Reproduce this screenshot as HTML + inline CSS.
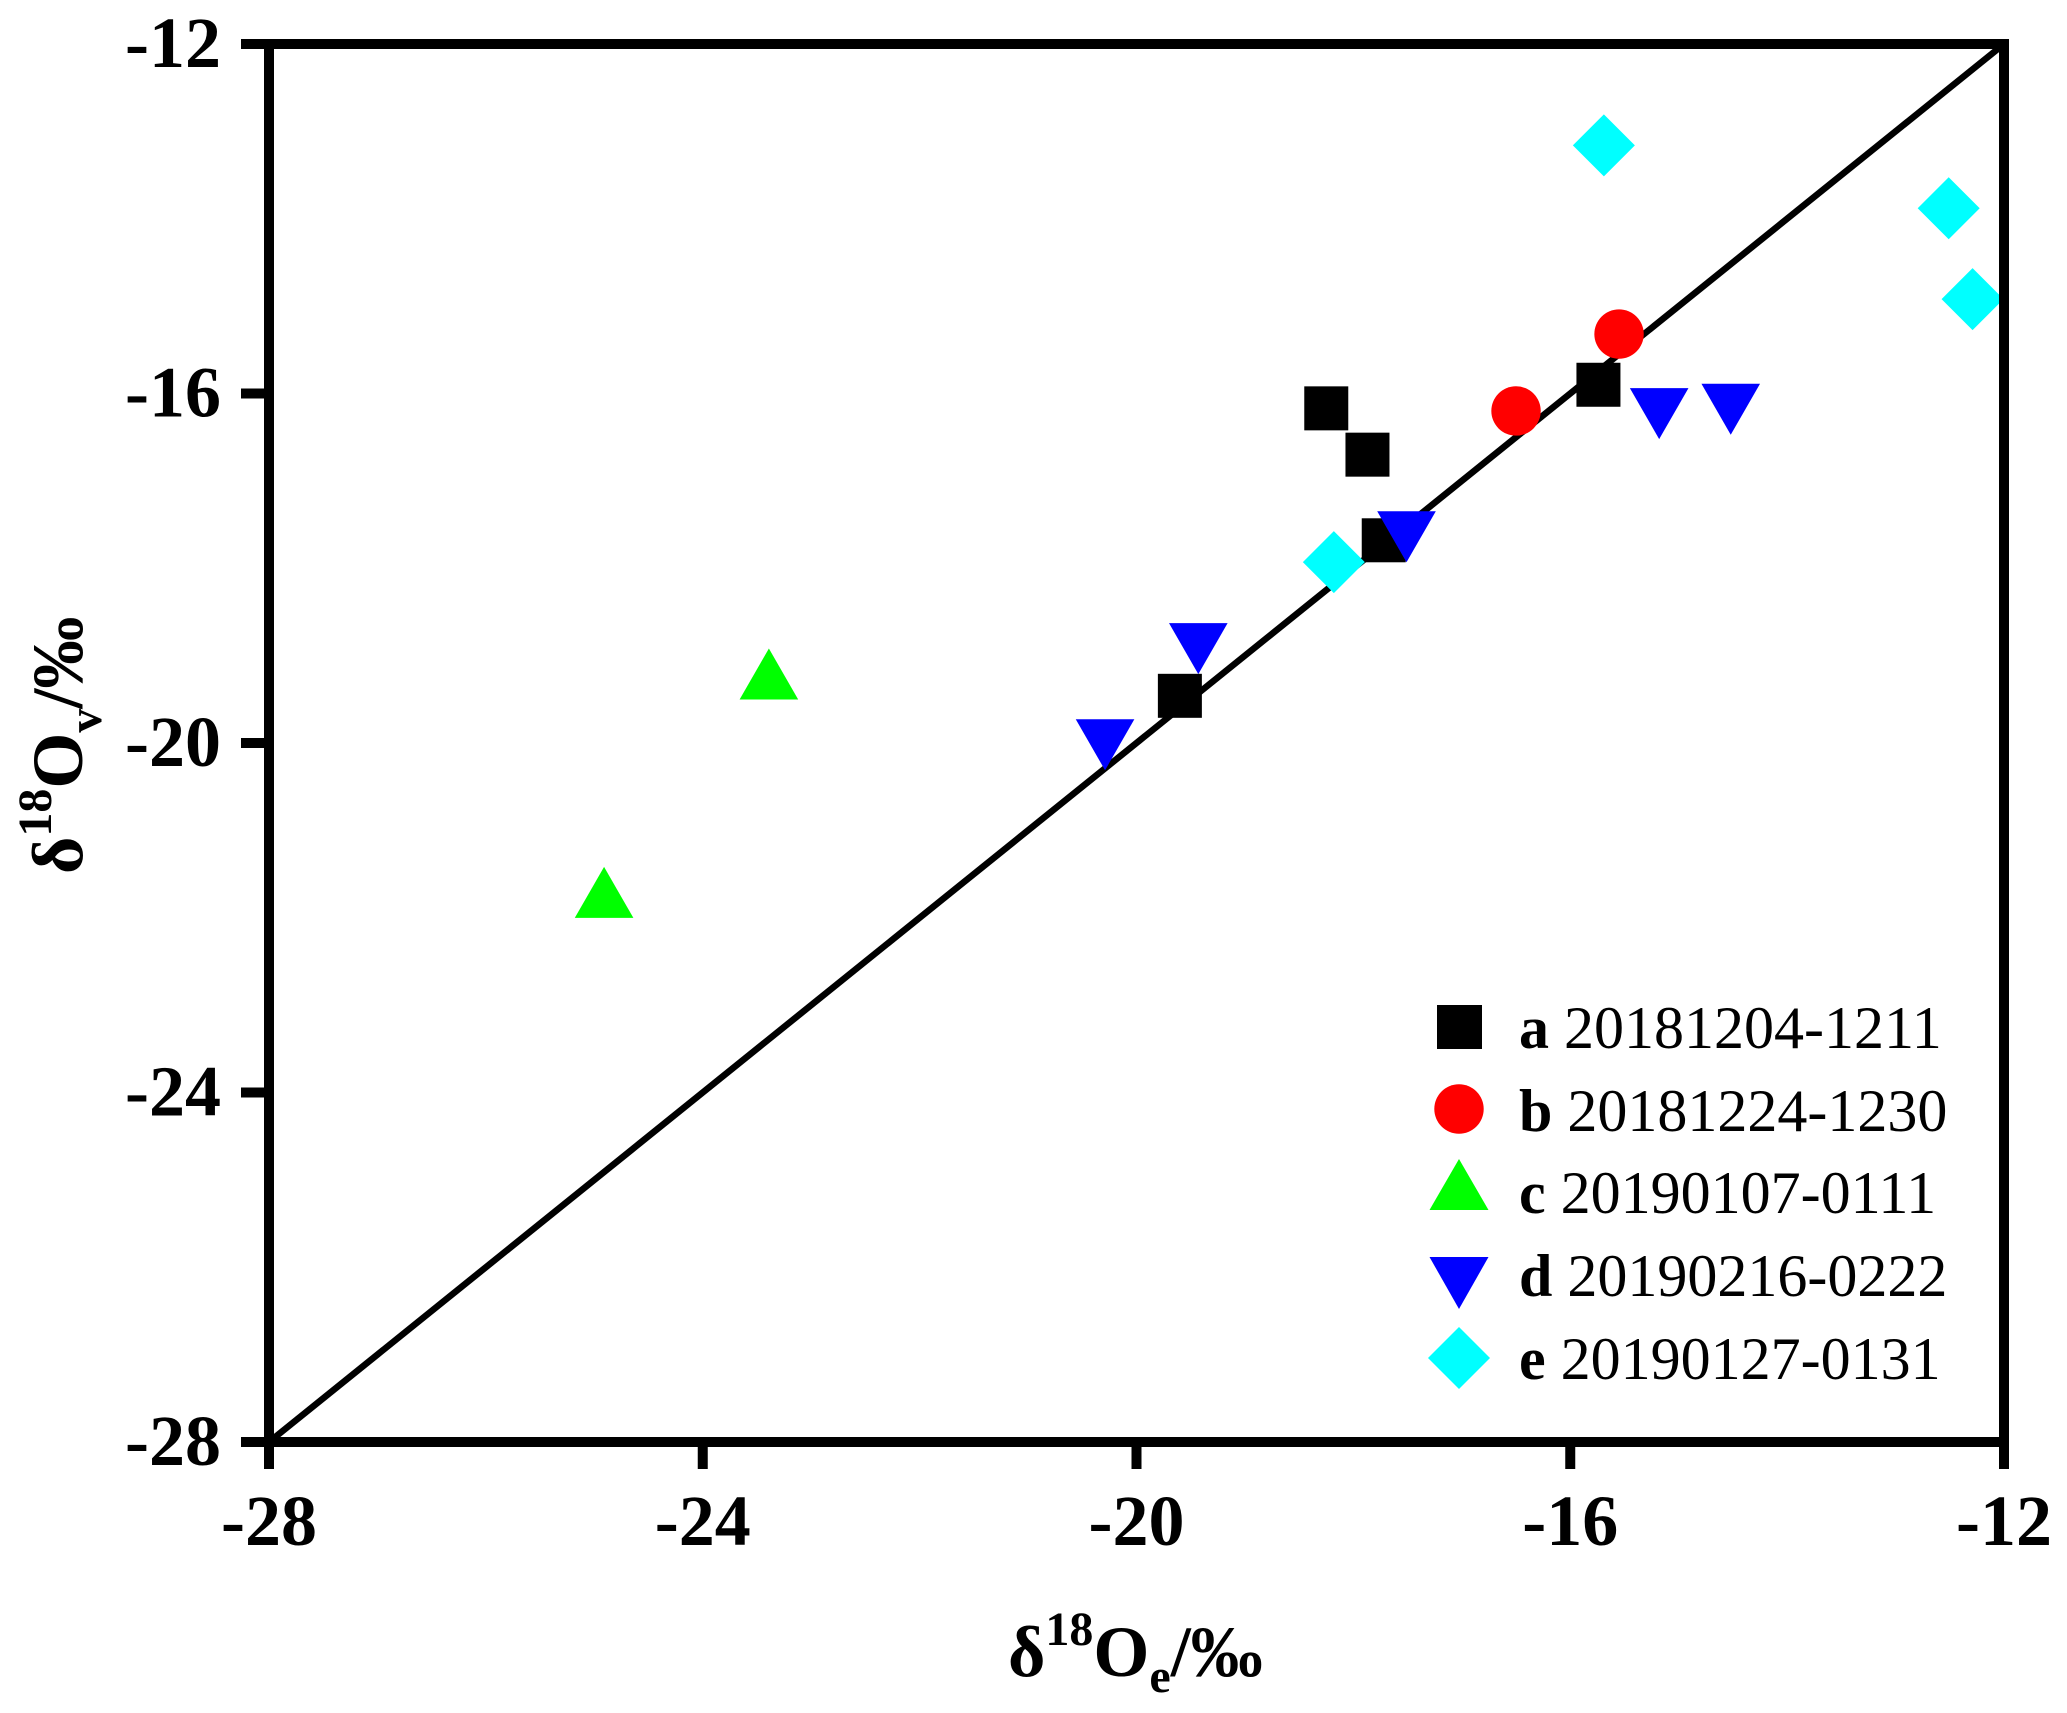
<!DOCTYPE html>
<html>
<head>
<meta charset="utf-8">
<title>δ18O scatter chart</title>
<style>
html,body{margin:0;padding:0;background:#fff;}
svg{display:block;}
text{font-family:"Liberation Serif",serif;fill:#000;}
.b{font-weight:bold;}
</style>
</head>
<body>
<svg id="chart" xmlns="http://www.w3.org/2000/svg" width="2067" height="1713" viewBox="0 0 2067 1713">
  <rect x="0" y="0" width="2067" height="1713" fill="#fff"/>
  <g id="marks"></g>
  <g id="axes"></g>
  <text class="b" x="1008" y="1676" font-size="72">δ<tspan font-size="48" dy="-31">18</tspan><tspan dy="31">O</tspan><tspan font-size="48" dy="16">e</tspan><tspan dy="-16">/‰</tspan></text>
  <text class="b" transform="translate(82,874) rotate(-90)" font-size="72">δ<tspan font-size="48" dy="-31">18</tspan><tspan dy="31">O</tspan><tspan font-size="48" dy="19">v</tspan><tspan dy="-19">/‰</tspan></text>
  <g id="legend">
    <rect x="1437" y="1005" width="45" height="44" fill="#000"/>
    <text x="1519" y="1048" font-size="60"><tspan class="b">a</tspan> 20181204-1211</text>
    <circle cx="1459" cy="1109" r="24.7" fill="#f00"/>
    <text x="1519" y="1131" font-size="60"><tspan class="b">b</tspan> 20181224-1230</text>
    <polygon points="1459,1159 1488.5,1210 1429.5,1210" fill="#0f0"/>
    <text x="1519" y="1213" font-size="60"><tspan class="b">c</tspan> 20190107-0111</text>
    <polygon points="1429.5,1257 1488.5,1257 1459,1309" fill="#00f"/>
    <text x="1519" y="1296" font-size="60"><tspan class="b">d</tspan> 20190216-0222</text>
    <polygon points="1459,1327 1490,1358 1459,1389 1428,1358" fill="#0ff"/>
    <text x="1519" y="1379" font-size="60"><tspan class="b">e</tspan> 20190127-0131</text>
  </g>
</svg>
<script>
const xTickValues = [-28, -24, -20, -16, -12];
const yTickValues = [-28, -24, -20, -16, -12];
const axisMin = -28;
const axisMax = -12;
const seriesAX = [-18.25, -17.87, -17.72, -15.74, -19.60];
const seriesAY = [-16.17, -16.70, -17.68, -15.90, -19.46];
const seriesBX = [-16.50, -15.55];
const seriesBY = [-16.20, -15.32];
const seriesCX = [-23.39, -24.91];
const seriesCY = [-19.21, -21.71];
const seriesDX = [-17.51, -15.18, -14.52, -19.43, -20.29];
const seriesDY = [-17.64, -16.23, -16.18, -18.92, -20.02];
const seriesEX = [-18.18, -15.69, -12.51, -12.29];
const seriesEY = [-17.93, -13.16, -13.88, -14.92];
const lineX = [-28, -12];
const lineY = [-28, -12];

const NS = 'http://www.w3.org/2000/svg';
const plotLeft = 269, plotRight = 2004, plotTop = 44, plotBottom = 1442;
function sx(v){ return plotLeft + (v - axisMin) / (axisMax - axisMin) * (plotRight - plotLeft); }
function sy(v){ return plotBottom - (v - axisMin) / (axisMax - axisMin) * (plotBottom - plotTop); }
function make(tag, attrs){
  const el = document.createElementNS(NS, tag);
  for (const k in attrs) el.setAttribute(k, attrs[k]);
  return el;
}
const marks = document.getElementById('marks');
const axes = document.getElementById('axes');

const refLine = make('line', {x1: sx(lineX[0]), y1: sy(lineY[0]), x2: sx(lineX[1]), y2: sy(lineY[1]), stroke: '#000', 'stroke-width': 6.5});


marks.appendChild(refLine);

seriesAX.forEach((v, i) => {
  const s = 44;
  const el = make('rect', {x: sx(v) - s / 2, y: sy(seriesAY[i]) - s / 2, width: s, height: s, fill: '#000'});
  
  
  marks.appendChild(el);
});
seriesBX.forEach((v, i) => {
  const el = make('circle', {cx: sx(v), cy: sy(seriesBY[i]), r: 24.7, fill: '#f00'});
  
  
  marks.appendChild(el);
});
seriesCX.forEach((v, i) => {
  const x = sx(v), y = sy(seriesCY[i]);
  const el = make('polygon', {points: `${x},${y - 25.5} ${x + 29.3},${y + 25.5} ${x - 29.3},${y + 25.5}`, fill: '#0f0'});
  
  
  marks.appendChild(el);
});
seriesDX.forEach((v, i) => {
  const x = sx(v), y = sy(seriesDY[i]);
  const el = make('polygon', {points: `${x - 29.3},${y - 25.5} ${x + 29.3},${y - 25.5} ${x},${y + 25.5}`, fill: '#00f'});
  
  
  marks.appendChild(el);
});
seriesEX.forEach((v, i) => {
  const x = sx(v), y = sy(seriesEY[i]);
  const el = make('polygon', {points: `${x},${y - 31} ${x + 31},${y} ${x},${y + 31} ${x - 31},${y}`, fill: '#0ff'});
  
  
  marks.appendChild(el);
});

const frame = make('rect', {x: plotLeft, y: plotTop, width: plotRight - plotLeft, height: plotBottom - plotTop, fill: 'none', stroke: '#000', 'stroke-width': 10});


axes.appendChild(frame);

xTickValues.forEach(v => {
  const tick = make('line', {x1: sx(v), x2: sx(v), y1: plotBottom, y2: 1469, stroke: '#000', 'stroke-width': 10});
  
  
  axes.appendChild(tick);
  const label = make('text', {x: sx(v), y: 1545, 'text-anchor': 'middle', 'font-size': 72, 'font-weight': 'bold'});
  label.textContent = String(v);
  
  
  axes.appendChild(label);
});
yTickValues.forEach(v => {
  const tick = make('line', {x1: 241, x2: plotLeft, y1: sy(v), y2: sy(v), stroke: '#000', 'stroke-width': 10});
  
  
  axes.appendChild(tick);
  const label = make('text', {x: 221, y: sy(v) + 23, 'text-anchor': 'end', 'font-size': 72, 'font-weight': 'bold'});
  label.textContent = String(v);
  
  
  axes.appendChild(label);
});
</script>
</body>
</html>
